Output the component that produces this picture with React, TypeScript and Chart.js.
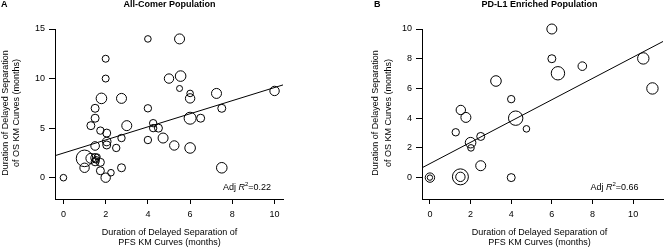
import React, { useEffect, useRef } from "react";
import { Chart, registerables } from "chart.js";

Chart.register(...registerables);

// ---------- Panel A: All-Comer Population ----------
const aPfs = [0, 4, 5.5, 2, 2, 5, 5.55, 5.5, 6, 6, 7.25, 10, 1.8, 2.75, 1.5, 4, 7.5, 1.5, 6, 6.5, 1.3, 3, 1.75, 2.05, 4.25, 4.25, 4.5, 4.72, 2.75, 4, 2.05, 2.05, 5.25, 6, 2.5, 1.5, 1.0, 1.3, 1.5, 1.55, 1.5, 1.6, 1.75, 1, 1.75, 2.25, 2.0, 2.75, 7.5];
const aOs = [0, 14, 14, 12, 10, 10, 10.25, 9, 8.5, 8, 8.5, 8.75, 8, 8, 7, 7, 7, 6, 6, 6, 5.25, 5.25, 4.75, 4.5, 5.5, 5, 5, 4, 4, 3.8, 3.65, 3.3, 3.25, 3, 3, 3.2, 1.95, 1.95, 2, 1.8, 1.6, 2.1, 1.55, 1, 0.7, 0.5, 0.0, 1, 1];
const aSize = [3.3, 3.3, 5, 3.5, 3.5, 4.7, 5.3, 3, 3.3, 4.7, 5, 4.7, 5.3, 5, 4, 3.7, 4, 4, 6, 4, 4, 5, 3.7, 4, 3.7, 3.7, 4, 5, 3.7, 3.7, 4.3, 4, 4.7, 5.3, 3.7, 4.3, 8.3, 5, 4.3, 3.3, 4, 3, 4, 4.7, 4, 3.3, 4.7, 4, 5.3];
const aFitX = [-0.4, 10.4];
const aFitY = [2.22, 9.36];
const aXTicks = [0, 2, 4, 6, 8, 10];
const aYTicks = [0, 5, 10, 15];

// ---------- Panel B: PD-L1 Enriched Population ----------
const bPfs = [0, 0, 1.5, 1.5, 4, 2.5, 2.02, 2.0, 2.5, 1.27, 1.77, 1.52, 4.22, 4.75, 4, 3.25, 6, 6, 6.3, 7.5, 10.5, 10.95];
const bOs = [0, 0, 0.05, 0.05, 0, 0.8, 2.0, 2.35, 2.77, 3.05, 4.05, 4.55, 4.0, 3.28, 5.28, 6.5, 10, 8, 7.02, 7.5, 8.02, 6.0];
const bSize = [4.7, 2.7, 8, 4.7, 4, 5, 3.3, 5.3, 4, 3.7, 5, 4.7, 7.2, 3.3, 3.7, 5.3, 5, 4, 6.7, 4.3, 5.7, 5.7];
const bFitX = [-0.39, 11.47];
const bFitY = [0.66, 9.16];
const bXTicks = [0, 2, 4, 6, 8, 10];
const bYTicks = [0, 2, 4, 6, 8, 10];

const FONT = "'Liberation Sans', Arial, Helvetica, sans-serif";
const xTitleLines = ["Duration of Delayed Separation of", "PFS KM Curves (months)"];
const yTitleLines = ["Duration of Delayed Separation", "of OS KM Curves (months)"];

type PanelCfg = {
  letter: string;
  title: string;
  r2: string;
  xs: number[];
  ys: number[];
  rs: number[];
  fitX: number[];
  fitY: number[];
  xTicks: number[];
  yTicks: number[];
  xMin: number;
  xMax: number;
  yMin: number;
  yMax: number;
  // layout (canvas-relative pixels)
  left: number;
  right: number;
  letterX: number;
  centerX: number;
  yTitleX: number[];
  r2X: number;
};

const panelA: PanelCfg = {
  letter: "A",
  title: "All-Comer Population",
  r2: "=0.22",
  xs: aPfs,
  ys: aOs,
  rs: aSize,
  fitX: aFitX,
  fitY: aFitY,
  xTicks: aXTicks,
  yTicks: aYTicks,
  xMin: -0.4,
  xMax: 10.4,
  yMin: -2.15,
  yMax: 15,
  left: 55,
  right: 283,
  letterX: 1,
  centerX: 169.5,
  yTitleX: [5.5, 17],
  r2X: 223,
};

const panelB: PanelCfg = {
  letter: "B",
  title: "PD-L1 Enriched Population",
  r2: "=0.66",
  xs: bPfs,
  ys: bOs,
  rs: bSize,
  fitX: bFitX,
  fitY: bFitY,
  xTicks: bXTicks,
  yTicks: bYTicks,
  xMin: -0.39,
  xMax: 11.47,
  yMin: -1.44,
  yMax: 10,
  left: 86,
  right: 336,
  letterX: 38,
  centerX: 203.5,
  yTitleX: [39.5, 53],
  r2X: 254.5,
};

const textPlugin = {
  id: "panelText",
  afterDraw(chart: any) {
    const p: PanelCfg = chart.options.plugins.panelText.cfg;
    const ctx = chart.ctx as CanvasRenderingContext2D;
    ctx.save();
    ctx.fillStyle = "#000";
    ctx.textBaseline = "middle";
    // panel letter + title
    ctx.font = `bold 9px ${FONT}`;
    ctx.textAlign = "left";
    ctx.fillText(p.letter, p.letterX, 5);
    ctx.textAlign = "center";
    ctx.fillText(p.title, p.centerX, 5);
    // x axis title
    ctx.font = `9px ${FONT}`;
    ctx.fillText(xTitleLines[0], p.centerX, 232.5);
    ctx.fillText(xTitleLines[1], p.centerX, 242.5);
    // y axis title
    for (let i = 0; i < 2; i++) {
      ctx.save();
      ctx.translate(p.yTitleX[i], 113);
      ctx.rotate(-Math.PI / 2);
      ctx.fillText(yTitleLines[i], 0, 0);
      ctx.restore();
    }
    // Adj R^2 annotation
    ctx.textAlign = "left";
    let x = p.r2X;
    const y = 187.5;
    ctx.font = `9px ${FONT}`;
    ctx.fillText("Adj ", x, y);
    x += ctx.measureText("Adj ").width;
    ctx.font = `italic 9px ${FONT}`;
    ctx.fillText("R", x, y);
    x += ctx.measureText("R").width;
    ctx.font = `6px ${FONT}`;
    ctx.fillText("2", x, y - 3);
    x += ctx.measureText("2").width;
    ctx.font = `9px ${FONT}`;
    ctx.fillText(p.r2, x, y);
    ctx.restore();
  },
};

function Panel({ cfg, offset }: { cfg: PanelCfg; offset: number }) {
  const ref = useRef<HTMLCanvasElement | null>(null);
  useEffect(() => {
    if (!ref.current) return;
    const bubbles = cfg.xs.map((x, i) => ({ x, y: cfg.ys[i] }));
    const fit = cfg.fitX.map((x, i) => ({ x, y: cfg.fitY[i] }));
    const tickFont = { family: FONT, size: 9 };
    const chart = new Chart(ref.current, {
      type: "scatter",
      data: {
        datasets: [
          {
            data: bubbles,
            pointRadius: cfg.rs,
            pointHoverRadius: cfg.rs,
            pointBorderWidth: 1,
            pointBorderColor: "#000",
            pointBackgroundColor: "rgba(0,0,0,0)",
            clip: false as any,
          },
          {
            type: "line" as any,
            data: fit,
            showLine: true,
            pointRadius: 0,
            borderColor: "#000",
            borderWidth: 1,
            fill: false,
          } as any,
        ],
      },
      options: {
        animation: false,
        responsive: false,
        devicePixelRatio: 1,
        events: [],
        layout: { padding: { left: 0, right: 336 - cfg.right, top: 29, bottom: 0 } },
        plugins: {
          legend: { display: false },
          tooltip: { enabled: false },
          title: { display: false },
          panelText: { cfg } as any,
        } as any,
        scales: {
          x: {
            type: "linear",
            min: cfg.xMin,
            max: cfg.xMax,
            afterBuildTicks: (s: any) => {
              s.ticks = cfg.xTicks.map((v) => ({ value: v }));
            },
            afterFit: (s: any) => {
              s.height = 49;
            },
            ticks: { font: tickFont, color: "#000", padding: 5, maxRotation: 0, autoSkip: false },
            grid: { drawOnChartArea: false, drawTicks: true, tickLength: 5, color: "#000", lineWidth: 1 },
            border: { display: true, color: "#000", width: 1 },
          },
          y: {
            type: "linear",
            min: cfg.yMin,
            max: cfg.yMax,
            afterBuildTicks: (s: any) => {
              s.ticks = cfg.yTicks.map((v) => ({ value: v }));
            },
            afterFit: (s: any) => {
              s.width = cfg.left;
            },
            ticks: { font: tickFont, color: "#000", padding: 4, autoSkip: false },
            grid: { drawOnChartArea: false, drawTicks: true, tickLength: 6, color: "#000", lineWidth: 1 },
            border: { display: true, color: "#000", width: 1 },
          },
        },
      },
      plugins: [textPlugin],
    });
    return () => chart.destroy();
  }, [cfg]);
  return (
    <canvas
      ref={ref}
      width={336}
      height={248}
      style={{ position: "absolute", left: offset, top: 0, width: 336, height: 248 }}
    />
  );
}

export default function App() {
  return (
    <div style={{ position: "fixed", left: 0, top: 0, width: 672, height: 248, background: "#fff", overflow: "hidden" }}>
      <Panel cfg={panelA} offset={0} />
      <Panel cfg={panelB} offset={336} />
    </div>
  );
}
